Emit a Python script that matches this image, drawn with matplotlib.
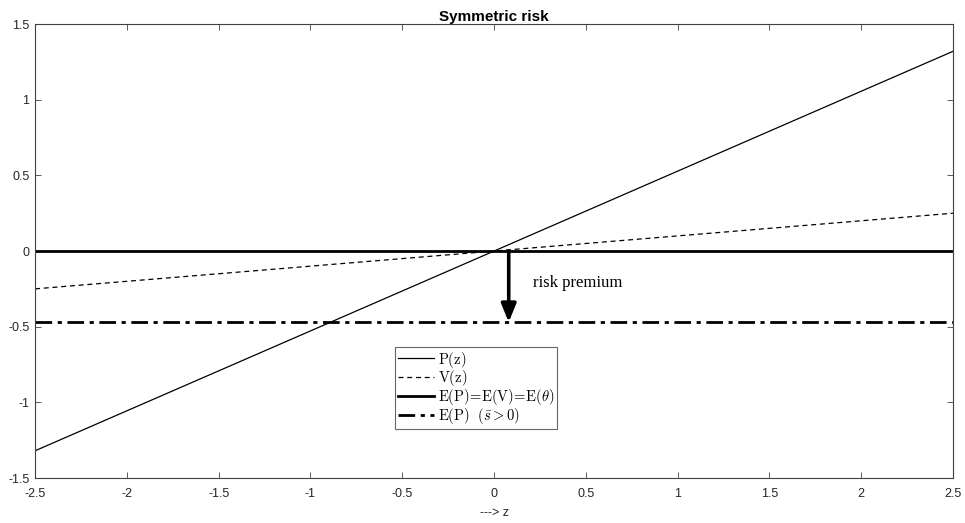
import matplotlib
matplotlib.use("Agg")
import matplotlib.pyplot as plt

plt.rcParams['mathtext.fontset'] = 'cm'

z = [-2.5, 2.5]
P = [-1.32, 1.32]
V = [-0.25, 0.25]
EP = [0.0, 0.0]
EPs = [-0.47, -0.47]
arrow_x = 0.08
xticks = [-2.5, -2, -1.5, -1, -0.5, 0, 0.5, 1, 1.5, 2, 2.5]
yticks = [-1.5, -1, -0.5, 0, 0.5, 1, 1.5]

fig = plt.figure(figsize=(9.65, 5.23), dpi=100)
ax = fig.add_axes([0.0363, 0.086, 0.9513, 0.868])

ax.plot(z, P, color='black', lw=0.9, label=r'$\mathrm{P(z)}$')
ax.plot(z, V, color='black', lw=0.9, ls=(0, (4, 3)), label=r'$\mathrm{V(z)}$')
ax.plot(z, EP, color='black', lw=2.0, label=r'$\mathrm{E(P)\!=\!E(V)\!=\!E(}\theta\mathrm{)}$')
ax.plot(z, EPs, color='black', lw=2.0, ls=(0, (6, 2, 1.5, 2)), label=r'$\mathrm{E(P)}\ \ (\bar{s}>0)$')

ax.annotate('', xy=(arrow_x, EPs[0]), xytext=(arrow_x, EP[0]),
            arrowprops=dict(arrowstyle='-|>,head_width=0.45,head_length=1.1', lw=2.6, color='black',
                            shrinkA=0, shrinkB=0))
ax.text(0.21, -0.21, 'risk premium', family='Liberation Serif', fontsize=12, va='center', ha='left')

ax.set_xlim(-2.5, 2.5)
ax.set_ylim(-1.5, 1.5)
ax.set_xticks(xticks)
ax.set_yticks(yticks)
ax.set_xticklabels([f'{t:g}' for t in xticks])
ax.set_yticklabels([f'{t:g}' for t in yticks])
gray = '#262626'
for s in ax.spines.values():
    s.set_color('#404040')
    s.set_linewidth(0.8)
ax.tick_params(direction='in', top=True, right=True, length=4, width=0.6, colors='#404040',
               labelcolor=gray, labelsize=9)
ax.tick_params(axis='x', pad=7)
ax.tick_params(axis='y', pad=4)
for lab in ax.get_xticklabels() + ax.get_yticklabels():
    lab.set_family('Liberation Sans')
ax.set_xlabel('---> z', family='Liberation Sans', fontsize=9, color=gray, labelpad=5)
ax.set_title('Symmetric risk', family='Liberation Sans', fontsize=11, fontweight='bold', pad=2)

leg = ax.legend(loc='lower left', bbox_to_anchor=(0.392, 0.108), fontsize=10.5, frameon=True,
                fancybox=False, edgecolor='#404040', handlelength=2.5, handletextpad=0.25,
                labelspacing=-0.08, borderpad=0.2, borderaxespad=0)
leg.get_frame().set_linewidth(0.8)

fig.savefig('out.png', dpi=100)
